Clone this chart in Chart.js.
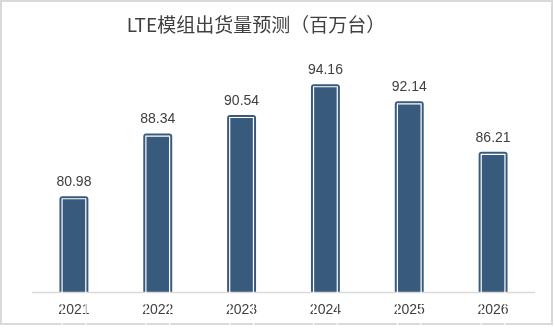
<!DOCTYPE html>
<html>
<head>
<meta charset="utf-8">
<script src="https://cdn.jsdelivr.net/npm/chart.js@4"></script>
<style>
  html, body { margin: 0; padding: 0; background: #fff; overflow: hidden; }
  #wrap { width: 554px; height: 336px; }
  canvas { display: block; }
</style>
</head>
<body>
<div id="wrap"><canvas id="myChart" width="554" height="336"></canvas></div>
<script>
// Data
const years = ['2021', '2022', '2023', '2024', '2025', '2026'];
const shipments = [80.98, 88.34, 90.54, 94.16, 92.14, 86.21];
const chartTitle = 'LTE模组出货量预测（百万台）';

const barColor = '#385a7c';
const textColor = '#404040';
const labelFont = '14px "Liberation Sans", Arial, sans-serif';

// Frame, title, axis line + year labels, white inner outline and value labels
const decorations = {
    id: 'decorations',
    beforeDraw(chart) {
        const ctx = chart.ctx;
        ctx.save();
        ctx.fillStyle = '#fff';
        ctx.fillRect(0, 0, chart.width, chart.height);
        ctx.strokeStyle = '#d9d9d9';
        ctx.lineWidth = 2;
        ctx.strokeRect(1, 1, 551, 323);
        ctx.fillStyle = textColor;
        ctx.font = '19px "Noto Sans CJK SC"';
        ctx.textAlign = 'center';
        ctx.textBaseline = 'middle';
        ctx.fillText(chartTitle, 256, 25);
        ctx.restore();
    },
    afterDatasetsDraw(chart) {
        const ctx = chart.ctx;
        const area = chart.chartArea;
        const xScale = chart.scales.x;
        const meta = chart.getDatasetMeta(0);
        ctx.save();
        ctx.strokeStyle = '#d9d9d9';
        ctx.lineWidth = 1.5;
        ctx.beginPath();
        ctx.moveTo(area.left, area.bottom + 0.5);
        ctx.lineTo(area.right, area.bottom + 0.5);
        ctx.stroke();

        ctx.font = labelFont;
        ctx.textAlign = 'center';
        ctx.textBaseline = 'middle';
        ctx.fillStyle = textColor;
        years.forEach((yr, i) => {
            ctx.fillText(yr, xScale.getPixelForValue(i), area.bottom + 18);
        });

        meta.data.forEach((bar, i) => {
            const left = bar.x - bar.width / 2;
            const right = bar.x + bar.width / 2;
            // white line just inside the bar edge
            ctx.strokeStyle = '#fff';
            ctx.lineWidth = 1.2;
            ctx.beginPath();
            ctx.moveTo(left + 2.6, bar.base);
            ctx.lineTo(left + 2.6, bar.y + 2.6);
            ctx.lineTo(right - 2.6, bar.y + 2.6);
            ctx.lineTo(right - 2.6, bar.base);
            ctx.stroke();
            // value label
            ctx.fillStyle = textColor;
            ctx.fillText(shipments[i].toFixed(2), bar.x, bar.y - 14);
        });
        ctx.restore();
    }
};

new Chart(document.getElementById('myChart'), {
    type: 'bar',
    data: {
        labels: years,
        datasets: [{
            data: shipments,
            backgroundColor: barColor,
            borderWidth: 0,
            borderRadius: { topLeft: 3, topRight: 3 },
            borderSkipped: 'bottom',
            barPercentage: 0.345,
            categoryPercentage: 1
        }]
    },
    options: {
        responsive: false,
        animation: false,
        layout: { padding: { top: 34.5, left: 32, right: 19, bottom: 44 } },
        plugins: {
            legend: { display: false },
            tooltip: { enabled: false },
            title: { display: false }
        },
        scales: {
            x: { display: false },
            y: {
                display: false,
                min: 69.7,
                max: 100
            }
        }
    },
    plugins: [decorations]
});
</script>
</body>
</html>
